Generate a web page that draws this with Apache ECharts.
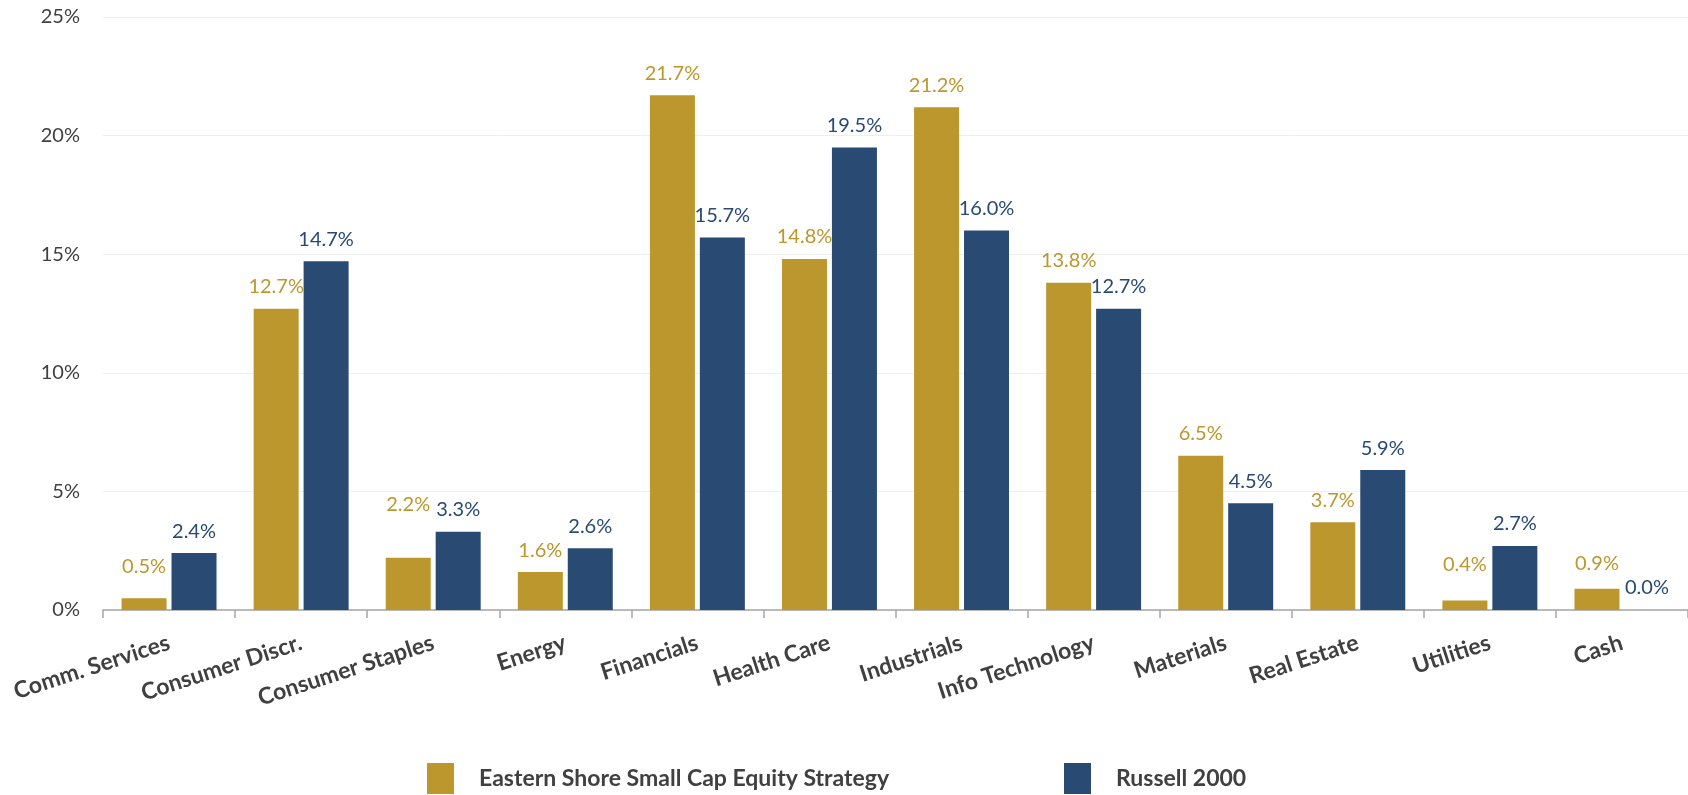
<!DOCTYPE html>
<html>
<head>
<meta charset="utf-8">
<script src="https://cdn.jsdelivr.net/npm/echarts@6/dist/echarts.min.js"></script>
<style>
html,body{margin:0;padding:0;background:#fff;}
#chart{width:1688px;height:795px;}
</style>
</head>
<body>
<div id="chart"></div>
<script>
const categories = ['Comm. Services','Consumer Discr.','Consumer Staples','Energy','Financials','Health Care','Industrials','Info Technology','Materials','Real Estate','Utilities','Cash'];
const seriesNames = ['Eastern Shore Small Cap Equity Strategy','Russell 2000'];
const strategyValues = [0.5,12.7,2.2,1.6,21.7,14.8,21.2,13.8,6.5,3.7,0.4,0.9];
const russellValues = [2.4,14.7,3.3,2.6,15.7,19.5,16.0,12.7,4.5,5.9,2.7,0.0];
const yTicks = [0,5,10,15,20,25];

// extra lift (px) for a few labels placed higher in the original
const strategyLabelLift = {'Comm. Services':10,'Consumer Staples':31,'Utilities':14,'Cash':3};

const GOLD = '#BC972E', BLUE = '#284A73', TEXT = '#404040';
const FONT = 'Lato, "Open Sans", sans-serif';
const LABEL_DIST = 12;

function buildData(values, lift) {
  return values.map((v, i) => {
    const extra = lift ? (lift[categories[i]] || 0) : 0;
    return extra ? {value: v, label: {distance: LABEL_DIST + extra}} : v;
  });
}

const legendText = {fontFamily: FONT, fontWeight: 'bold', fontSize: 23, color: TEXT, padding: [0,0,0,20]};

const chart = echarts.init(document.getElementById('chart'));
chart.setOption({
  animation: false,
  textStyle: {fontFamily: FONT},
  grid: {left: 103, right: 0, top: 17, bottom: 185, containLabel: false},
  legend: [
    {data: [seriesNames[0]], left: 422, top: 758, icon: 'rect', itemWidth: 27, itemHeight: 31, textStyle: legendText},
    {data: [seriesNames[1]], left: 1059, top: 758, icon: 'rect', itemWidth: 27, itemHeight: 31, textStyle: legendText}
  ],
  xAxis: {
    type: 'category',
    data: categories,
    axisLine: {lineStyle: {color: '#A6A6A6', width: 1.5}},
    axisTick: {show: true, length: 8, lineStyle: {color: '#A6A6A6', width: 1.5}},
    axisLabel: {rotate: 18, interval: 0, margin: 32, fontFamily: FONT, fontWeight: 'bold', fontSize: 23, color: TEXT}
  },
  yAxis: {
    type: 'value',
    min: yTicks[0], max: yTicks[yTicks.length-1], interval: yTicks[1]-yTicks[0],
    axisLine: {show: false},
    axisTick: {show: false},
    splitLine: {lineStyle: {color: '#EFEFEF', width: 1}},
    axisLabel: {formatter: v => v + '%', margin: 23, fontFamily: FONT, fontSize: 20, color: TEXT}
  },
  series: [
    {
      name: seriesNames[0], type: 'bar', barWidth: 45, barGap: '11%',
      itemStyle: {color: GOLD},
      label: {show: true, position: 'top', distance: LABEL_DIST, color: GOLD, fontSize: 20, fontFamily: FONT,
              formatter: p => p.value.toFixed(1) + '%'},
      data: buildData(strategyValues, strategyLabelLift)
    },
    {
      name: seriesNames[1], type: 'bar', barWidth: 45, barGap: '11%',
      itemStyle: {color: BLUE},
      label: {show: true, position: 'top', distance: LABEL_DIST, color: BLUE, fontSize: 20, fontFamily: FONT,
              formatter: p => p.value.toFixed(1) + '%'},
      data: buildData(russellValues, null)
    }
  ]
});
</script>
</body>
</html>
